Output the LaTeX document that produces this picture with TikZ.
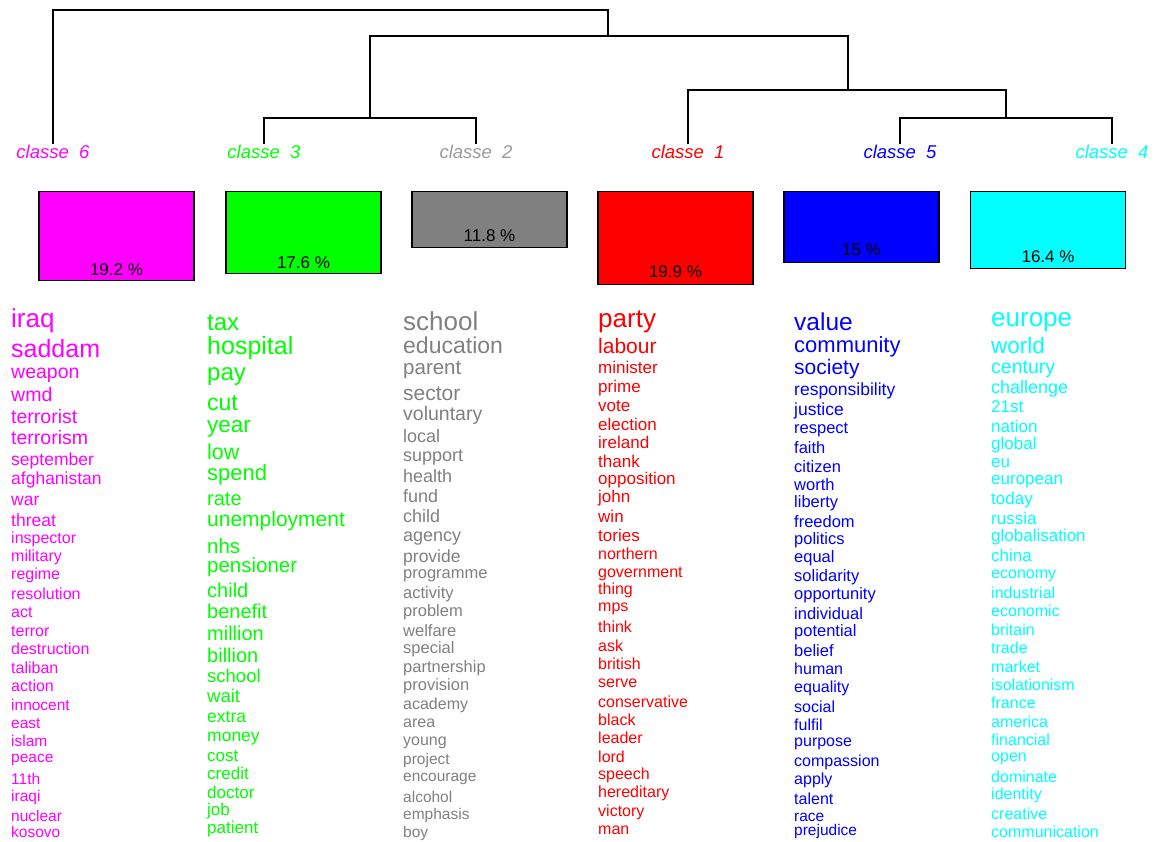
\documentclass[tikz,border=0pt]{standalone}
\usepackage{fontspec}
\setmainfont{Liberation Sans}
\definecolor{cmag}{RGB}{255,0,255}
\definecolor{cgreen}{RGB}{0,255,0}
\definecolor{cgrey}{RGB}{128,128,128}
\definecolor{cred}{RGB}{255,0,0}
\definecolor{cblue}{RGB}{0,0,255}
\definecolor{ccyan}{RGB}{0,255,255}
\tikzset{
  dend/.style={draw=black, line width=1.5pt},
  classlab/.style={font=\fontsize{18.5}{18.5}\selectfont\itshape, inner sep=1pt},
  pctbox/.style={draw=black, line width=1.4pt, minimum width=155pt, anchor=north, inner sep=0pt},
  pct/.style={font=\fontsize{17}{17}\selectfont, text=black, inner sep=0pt},
  word/.style={anchor=west, inner sep=0pt, text height=0.7em, text depth=0.2em, yshift=-3pt},
}
\begin{document}
\begin{tikzpicture}[x=1pt,y=-1pt]
	\useasboundingbox (0,0) rectangle (1154,841);
	% class labels
	\node[classlab,text=cmag] (c6) at (53,152) {classe\ \ 6};
	\node[classlab,text=cgreen] (c3) at (264,152) {classe\ \ 3};
	\node[classlab,text=cgrey!80] (c2) at (476,152) {classe\ \ 2};
	\node[classlab,text=cred] (c1) at (688,152) {classe\ \ 1};
	\node[classlab,text=cblue] (c5) at (900,152) {classe\ \ 5};
	\node[classlab,text=ccyan] (c4) at (1112,152) {classe\ \ 4};
	% dendrogram
	\coordinate (m32) at (370,118);
	\coordinate (m54) at (1006,118);
	\coordinate (m154) at (848,90);
	\coordinate (m2154) at (608,36);
	\coordinate (mall) at (330,10);
	\draw[dend] (c3.north) |- (m32) -| (c2.north);
	\draw[dend] (c5.north) |- (m54) -| (c4.north);
	\draw[dend] (c1.north) |- (m154) -| (m54);
	\draw[dend] (m32) |- (m2154) -| (m154);
	\draw[dend] (c6.north) |- (mall) -| (m2154);
	% boxes
	\node[pctbox,fill=cmag,minimum height=89pt] (b6) at (116.5,191) {};
	\node[pctbox,fill=cgreen,minimum height=82pt] (b3) at (303.5,191) {};
	\node[pctbox,fill=cgrey,minimum height=56pt] (b2) at (489.5,191) {};
	\node[pctbox,fill=cred,minimum height=93pt] (b1) at (675.5,191) {};
	\node[pctbox,fill=cblue,minimum height=71pt] (b5) at (861.5,191) {};
	\node[pctbox,fill=ccyan,minimum height=77pt] (b4) at (1048,191) {};
	\node[pct] (p6) at ([yshift=12pt]b6.south) {19.2 \%};
	\node[pct] (p3) at ([yshift=12pt]b3.south) {17.6 \%};
	\node[pct] (p2) at ([yshift=13pt]b2.south) {11.8 \%};
	\node[pct] (p1) at ([yshift=14pt]b1.south) {19.9 \%};
	\node[pct] (p5) at ([yshift=14pt]b5.south) {15 \%};
	\node[pct] (p4) at ([yshift=13pt]b4.south) {16.4 \%};
	% word lists
	\foreach \w/\y/\s [count=\i] in {iraq/322/26, saddam/352/25, weapon/373/19.5, wmd/396/19.5, terrorist/418/19.5, terrorism/439/19.5, september/460/17.5, afghanistan/479/17.5, war/500/17.5, threat/521/17.5, inspector/538/16, military/556/16, regime/574/16, resolution/594/16, act/612/16, terror/631/16, destruction/649/16, taliban/668/16, action/686/16, innocent/705/15.5, east/723/15.5, islam/741/15.5, peace/757/15.5, 11th/779/15.5, iraqi/796/15.5, nuclear/816/15.5, kosovo/832/15.5}
		\node[word,text=cmag,font=\fontsize{\s}{\s}\selectfont] (w6-\i) at (11,\y) {\w};
	\foreach \w/\y/\s [count=\i] in {tax/325/24, hospital/349/25, pay/375/24, cut/405/23, year/427/22.5, low/454/21.5, spend/475/22, rate/500/20, unemployment/521/21, nhs/548/20.5, pensioner/567/20.5, child/592/20, benefit/613/20, million/635/20, billion/657/20, school/677/18.5, wait/697/18.5, extra/717/17.5, money/736/17.5, cost/756/17, credit/774/17, doctor/793/17, job/810/17, patient/828/17}
		\node[word,text=cgreen,font=\fontsize{\s}{\s}\selectfont] (w3-\i) at (207,\y) {\w};
	\foreach \w/\y/\s [count=\i] in {school/325/26, education/348/23, parent/369/20.5, sector/395/21, voluntary/415/19.5, local/437/18, support/456/18, health/477/18, fund/497/18, child/517/18, agency/536/18, provide/557/17.5, programme/573/16.5, activity/593/16.5, problem/611/16.5, welfare/631/16.5, special/648/16.5, partnership/667/16.5, provision/685/16.5, academy/704/16, area/722/16, young/740/16, project/759/15.5, encourage/776/15.5, alcohol/797/15.5, emphasis/814/15.5, boy/832/15.5}
		\node[word,text=cgrey,font=\fontsize{\s}{\s}\selectfont] (w2-\i) at (403,\y) {\w};
	\foreach \w/\y/\s [count=\i] in {party/322/26, labour/348/21, minister/368/17, prime/387/17, vote/406/17, election/425/17, ireland/443/17, thank/462/17, opposition/479/17, john/497/17, win/517/17, tories/536/17, northern/554/16, government/572/16, thing/589/16, mps/606/16, think/627/16, ask/646/16, british/664/16, serve/682/16, conservative/702/16, black/720/16, leader/738/16, lord/757/16, speech/774/16, hereditary/792/16, victory/811/16, man/829/16}
		\node[word,text=cred,font=\fontsize{\s}{\s}\selectfont] (w1-\i) at (598,\y) {\w};
	\foreach \w/\y/\s [count=\i] in {value/325/24.5, community/347/22, society/369/21, responsibility/390/17.5, justice/410/17.5, respect/428/16.5, faith/448/16.5, citizen/467/16.5, worth/485/16.5, liberty/502/16.5, freedom/522/16.5, politics/539/16.5, equal/557/16.5, solidarity/576/16.5, opportunity/594/16.5, individual/614/16.5, potential/631/16.5, belief/651/16.5, human/669/16, equality/687/16, social/707/16, fulfil/725/16, purpose/741/16, compassion/761/16, apply/779/16, talent/799/16, race/816/15.5, prejudice/830/15.5}
		\node[word,text=cblue,font=\fontsize{\s}{\s}\selectfont] (w5-\i) at (794,\y) {\w};
	\foreach \w/\y/\s [count=\i] in {europe/321/26, world/348/22.5, century/368/19.5, challenge/388/18, 21st/407/17, nation/427/17, global/444/17, eu/462/17, european/479/17, today/499/17, russia/519/17, globalisation/536/17, china/556/17, economy/573/16, industrial/593/16, economic/611/16, britain/630/16, trade/648/16, market/667/16, isolationism/685/16, france/703/16, america/722/16, financial/740/16, open/756/16, dominate/777/16, identity/794/16, creative/814/16, communication/832/16}
		\node[word,text=ccyan,font=\fontsize{\s}{\s}\selectfont] (w4-\i) at (991,\y) {\w};
\end{tikzpicture}
\end{document}
